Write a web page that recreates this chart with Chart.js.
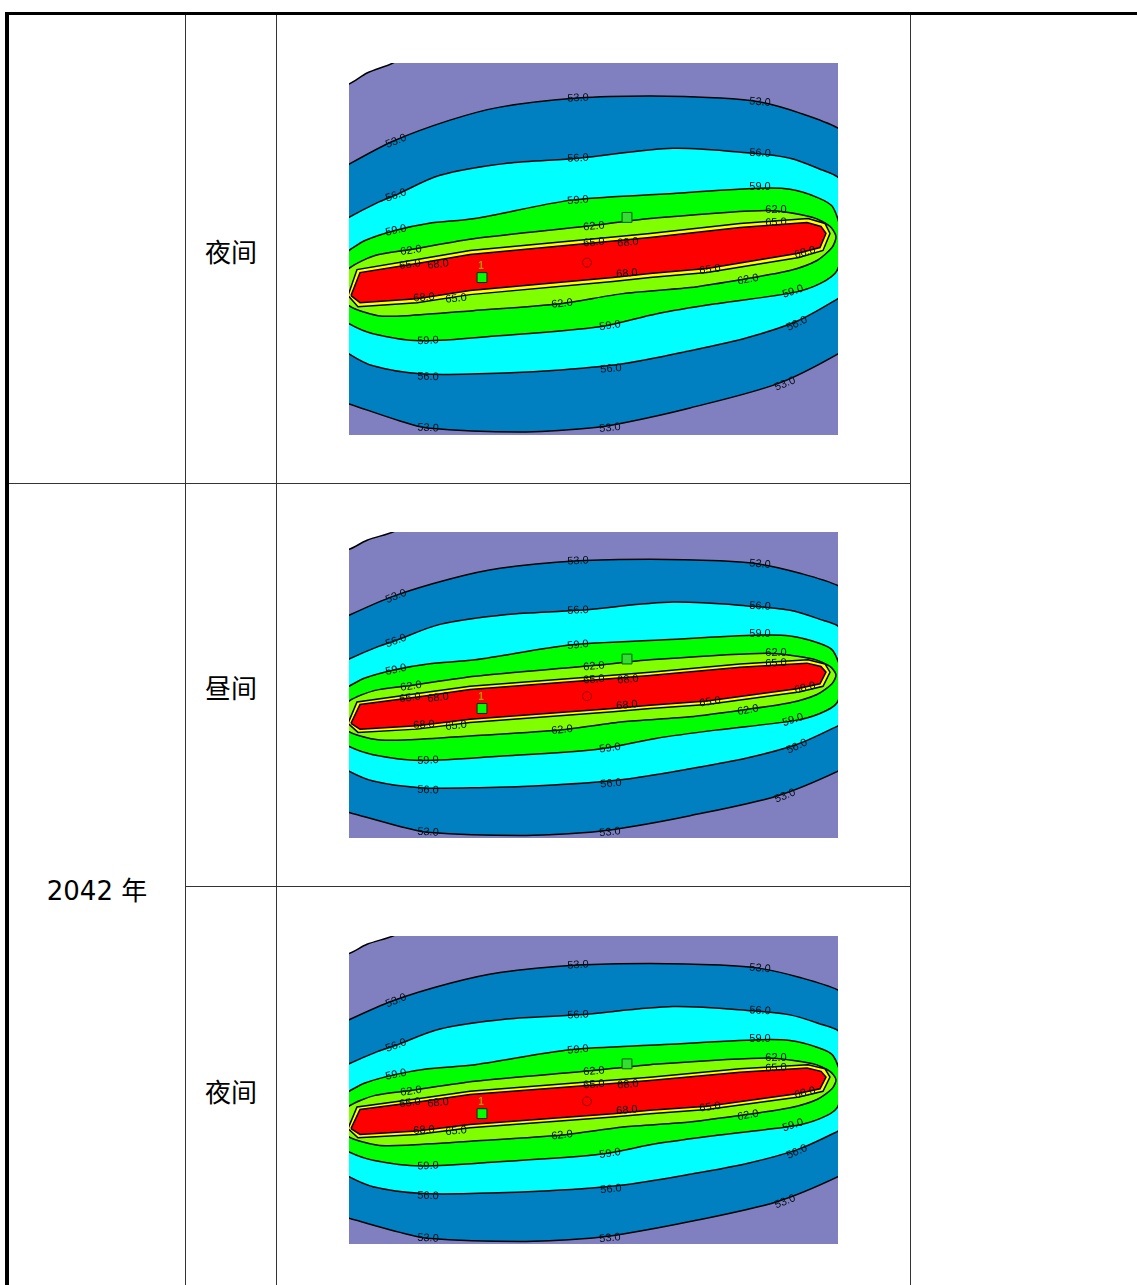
<!DOCTYPE html>
<html>
<head>
<meta charset="utf-8">
<script src="https://cdn.jsdelivr.net/npm/chart.js@4.4.1/dist/chart.umd.min.js"></script>
<style>
    body { margin: 0; background: #fff; width: 1137px; height: 1285px; overflow: hidden; position: relative;
           font-family: "DejaVu Sans", "Noto Sans CJK SC", sans-serif; }
    .ln { position: absolute; background: #333; }
    .txt { position: absolute; font-size: 26px; color: #000; transform: translate(-50%, -50%); white-space: nowrap; }
    canvas { position: absolute; }
</style>
</head>
<body>
<!-- table frame -->
<div class="ln" style="left:5px;top:12px;width:1132px;height:3px;background:#000"></div>
<div class="ln" style="left:5px;top:12px;width:4px;height:1273px;background:#000"></div>
<div class="ln" style="left:185px;top:15px;width:1px;height:1270px"></div>
<div class="ln" style="left:276px;top:15px;width:1px;height:1270px"></div>
<div class="ln" style="left:910px;top:15px;width:1px;height:1270px"></div>
<div class="ln" style="left:9px;top:483px;width:902px;height:1px"></div>
<div class="ln" style="left:185px;top:886px;width:726px;height:1px"></div>

<div class="txt" style="left:231px;top:250px">夜间</div>
<div class="txt" style="left:231px;top:686px">昼间</div>
<div class="txt" style="left:231px;top:1090px">夜间</div>
<div class="txt" style="left:97px;top:888px">2042 年</div>

<canvas id="plot1" width="489" height="372" style="left:349px;top:63px"></canvas>
<canvas id="plot2" width="489" height="306" style="left:349px;top:532px"></canvas>
<canvas id="plot3" width="489" height="308" style="left:349px;top:936px"></canvas>

<script>
// contour lines, in image units (0..489 across, 0..371 down)
const levels = ['53.0', '56.0', '59.0', '62.0', '65.0', '68.0'];

const corner = [[-10, -10], [-10, 21], [0, 21], [18, 10], [44, 0], [60, -10], [-10, -10]];

const c53 = [[-40, 125], [0, 101], [44, 78], [101, 57], [151, 44], [229, 35], [301, 33], [371, 35], [411, 39],
    [451, 50], [489, 65], [525, 92], [545, 177], [525, 265], [489, 290], [428, 320], [341, 344], [274, 359],
    [241, 364], [171, 368], [78, 364], [51, 357], [0, 340], [-40, 327], [-40, 125]];

const c56 = [[-40, 178], [0, 154], [29, 139], [46, 132], [91, 112], [158, 100], [229, 95], [324, 85], [404, 90],
    [441, 95], [474, 107], [489, 114], [512, 140], [522, 177], [512, 220], [489, 235], [449, 257], [398, 274],
    [341, 287], [274, 300], [200, 307], [130, 310], [71, 310], [24, 302], [0, 290], [-40, 262], [-40, 178]];

const c59 = [[-20, 200], [0, 187], [16, 177], [46, 167], [79, 160], [126, 155], [221, 137], [311, 131], [411, 125],
    [441, 126], [468, 134], [484, 144], [493, 177], [488, 207], [471, 220], [444, 229], [368, 240], [308, 250],
    [251, 263], [150, 272], [71, 277], [24, 270], [0, 260], [-20, 245], [-20, 200]];

const c62 = [[-10, 224], [0, 205], [26, 192], [62, 186], [126, 175], [244, 162], [301, 155], [418, 147], [464, 154],
    [481, 163], [487, 173], [483, 184], [468, 197], [441, 207], [398, 215], [341, 224], [274, 230], [211, 240],
    [124, 247], [58, 252], [29, 252], [0, 242], [-10, 224]];

const c65 = [[-1, 232], [8, 206], [74, 195], [121, 187], [238, 176], [301, 170], [391, 160], [459, 155], [476, 160],
    [481, 170], [474, 187], [450, 194], [358, 209], [301, 214], [264, 218], [121, 231], [68, 239], [9, 243], [-1, 232]];

const c68 = [[2, 232], [11, 209], [74, 199], [121, 191], [238, 180], [301, 174], [391, 164], [458, 159], [472, 163],
    [477, 170], [471, 184], [448, 190], [358, 205], [301, 210], [264, 214], [121, 227], [68, 235], [11, 239], [2, 232]];

// contour labels
const labelText = ['53.0', '53.0', '53.0', '53.0', '53.0', '53.0',
    '56.0', '56.0', '56.0', '56.0', '56.0', '56.0',
    '59.0', '59.0', '59.0', '59.0', '59.0', '59.0',
    '62.0', '62.0', '62.0', '62.0', '62.0',
    '65.0', '65.0', '65.0', '65.0', '65.0',
    '68.0', '68.0', '68.0', '68.0', '68.0'];
const labelX = [47, 229, 411, 436, 261, 79,
    47, 229, 411, 448, 262, 79,
    47, 229, 411, 444, 261, 79,
    62, 245, 427, 399, 213,
    61, 245, 427, 361, 107,
    89, 279, 456, 278, 75];
const labelY = [78, 35, 39, 320, 364, 364,
    132, 95, 90, 260, 305, 313,
    167, 137, 124, 228, 262, 277,
    187, 163, 147, 216, 240,
    201, 179, 159, 206, 235,
    201, 179, 189, 210, 234];
const labelTilt = [-22, -3, 5, -22, -5, 3,
    -20, -3, 3, -25, -5, 2,
    -12, -5, 0, -18, -8, -3,
    -8, -5, 0, -10, -6,
    -8, -5, -3, -8, -6,
    -6, -5, -15, -5, -4];

// receptors and source
const sourcePt = [[133, 214]];
const receptorPt = [[278, 154]];
const centrePt = [[238, 199]];

const bandFill = ['#0080c0', '#00ffff', '#00ff00', '#80ff00', '#ffff00', '#ff0000'];
const bandLines = [c53, c56, c59, c62, c65, c68];
const bandTension = [0.3, 0.3, 0.3, 0.25, 0, 0];

const toXY = pts => pts.map(p => ({ x: p[0], y: p[1] }));

const backgroundPlugin = {
    id: 'purpleBack',
    beforeDraw(chart) {
        const { ctx, chartArea } = chart;
        ctx.save();
        ctx.fillStyle = '#8080c0';
        ctx.fillRect(chartArea.left, chartArea.top, chartArea.width, chartArea.height);
        ctx.restore();
    }
};

const labelPlugin = {
    id: 'contourLabels',
    afterDatasetsDraw(chart) {
        const { ctx } = chart;
        const sx = chart.scales.x, sy = chart.scales.y;
        ctx.save();
        ctx.font = '11px "Liberation Sans", Arial, sans-serif';
        ctx.fillStyle = '#001018';
        ctx.textAlign = 'center';
        ctx.textBaseline = 'middle';
        labelText.forEach((t, i) => {
            ctx.save();
            ctx.translate(sx.getPixelForValue(labelX[i]), sy.getPixelForValue(labelY[i]));
            ctx.rotate(labelTilt[i] * Math.PI / 180);
            ctx.fillText(t, 0, 0);
            ctx.restore();
        });
        // source number
        ctx.font = 'bold 10px "Liberation Sans", Arial, sans-serif';
        ctx.fillStyle = '#a89a00';
        ctx.fillText('1', sx.getPixelForValue(sourcePt[0][0]) - 1, sy.getPixelForValue(sourcePt[0][1]) - 11);
        ctx.restore();
    }
};

const makePlot = (id) => {
    const datasets = [];
    datasets.push({
        data: toXY(corner), showLine: true, fill: 'shape', backgroundColor: '#ffffff',
        borderColor: '#000', borderWidth: 1.5, tension: 0.3, pointRadius: 0, order: 20
    });
    bandLines.forEach((pts, i) => {
        datasets.push({
            label: levels[i],
            data: toXY(pts), showLine: true, fill: 'shape', backgroundColor: bandFill[i],
            borderColor: '#000', borderWidth: 1.5, tension: bandTension[i], pointRadius: 0, order: 19 - i
        });
    });
    datasets.push({
        data: toXY(sourcePt), pointStyle: 'rect', pointRadius: 7, backgroundColor: '#00ff00',
        borderColor: '#003000', borderWidth: 1, order: 1
    });
    datasets.push({
        data: toXY(receptorPt), pointStyle: 'rect', pointRadius: 7, backgroundColor: '#33dd33',
        borderColor: '#006000', borderWidth: 1, order: 1
    });
    datasets.push({
        data: toXY(centrePt), pointStyle: 'circle', pointRadius: 4.5, backgroundColor: 'rgba(0,0,0,0)',
        borderColor: '#900000', borderWidth: 1, order: 1
    });

    new Chart(document.getElementById(id), {
        type: 'scatter',
        data: { datasets },
        options: {
            responsive: false,
            animation: false,
            events: [],
            layout: { padding: 0, autoPadding: false },
            elements: { line: { capBezierPoints: false } },
            plugins: { legend: { display: false }, tooltip: { enabled: false } },
            scales: {
                x: { display: false, min: 0, max: 489 },
                y: { display: false, min: 0, max: 371, reverse: true }
            }
        },
        plugins: [backgroundPlugin, labelPlugin]
    });
};

makePlot('plot1');
makePlot('plot2');
makePlot('plot3');
</script>
</body>
</html>
